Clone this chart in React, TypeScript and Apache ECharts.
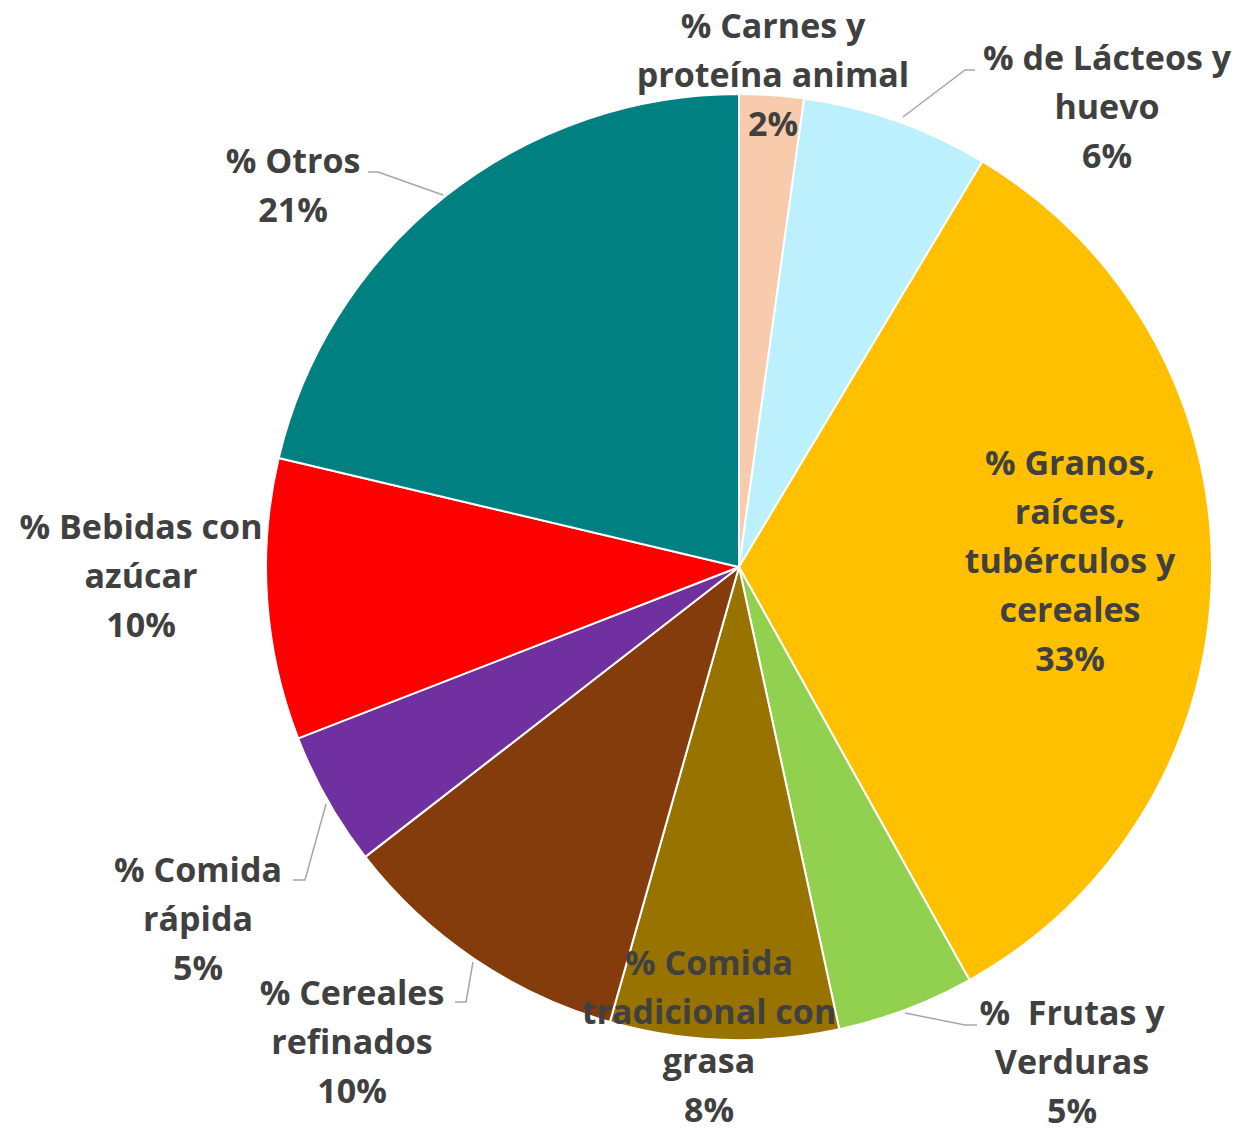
import React, { useEffect, useRef } from "react";
import * as echarts from "echarts";

const categories = [
  "% Carnes y\nproteína animal",
  "% de Lácteos y\nhuevo",
  "% Granos,\nraíces,\ntubérculos y\ncereales",
  "%  Frutas y\nVerduras",
  "% Comida\ntradicional con\ngrasa",
  "% Cereales\nrefinados",
  "% Comida\nrápida",
  "% Bebidas con\nazúcar",
  "% Otros",
];
const values = [2.2, 6.4, 33.3, 4.7, 7.8, 10.1, 4.6, 9.6, 21.3];
const colors = ["#F8CBAD", "#BDF0FD", "#FFC000", "#92D050", "#997300", "#843C0C", "#7030A0", "#FF0000", "#008080"];

// label centre positions (x, y) and optional leader line points
const labelPos: [number, number][] = [
  [773, 74],
  [1107, 106],
  [1070, 560],
  [1072, 1061],
  [709, 1035],
  [352, 1041],
  [198, 918],
  [141, 575],
  [293, 184],
];
const leaderLines: (number[][] | null)[] = [
  null,
  [[903, 117], [965, 70], [975, 70]],
  null,
  [[905, 1013], [965, 1025], [977, 1025]],
  null,
  [[473, 962], [466, 1002], [455, 1002]],
  [[326, 804], [305, 880], [293, 880]],
  null,
  [[443, 195], [378, 172], [368, 172]],
];

export default function App() {
  const ref = useRef<HTMLDivElement>(null);
  useEffect(() => {
    const chart = echarts.init(ref.current!, null, { renderer: "svg" });
    chart.setOption({
      animation: false,
      backgroundColor: "#ffffff",
      series: [
        {
          type: "pie",
          center: [739, 567],
          radius: [0, 473],
          startAngle: 90,
          clockwise: true,
          avoidLabelOverlap: false,
          itemStyle: { borderColor: "#ffffff", borderWidth: 2 },
          label: {
            show: true,
            position: "outside",
            color: "#404040",
            fontFamily: "Open Sans",
            fontWeight: "bold",
            fontSize: 34,
            lineHeight: 49,
            align: "center",
            formatter: (p: any) => `${p.name}\n${Math.round(p.value)}%`,
          },
          labelLine: {
            show: true,
            lineStyle: { color: "#A6A6A6", width: 1.5 },
          },
          labelLayout: (params: any) => {
            const i = params.dataIndex;
            const pts = leaderLines[i];
            const res: any = {
              x: labelPos[i][0],
              y: labelPos[i][1],
              align: "center",
              verticalAlign: "middle",
            };
            if (pts) res.labelLinePoints = pts;
            return res;
          },
          data: categories.map((name, i) => ({
            name,
            value: values[i],
            itemStyle: { color: colors[i] },
            labelLine: { show: leaderLines[i] !== null },
          })),
        },
      ],
    });
    return () => chart.dispose();
  }, []);
  return (
    <div
      ref={ref}
      style={{ position: "absolute", left: 0, top: 0, width: 1241, height: 1132 }}
    />
  );
}
